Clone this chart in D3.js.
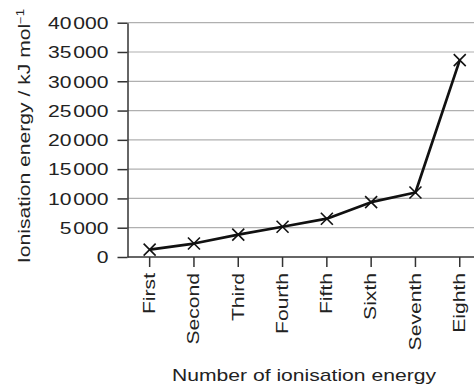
<!DOCTYPE html>
<meta charset="utf-8">
<style>
body{ margin:0; background:#fff; }
text{ font-family:"Liberation Sans", Arial, sans-serif; fill:#222; }
.grid line{ stroke:#b0b0b0; stroke-width:1.2px; }
.axis path, .axis line{ stroke:#333; stroke-width:1.5px; }
.series{ fill:none; stroke:#111; stroke-width:2.7px; stroke-linejoin:round; }
.marker{ stroke:#111; stroke-width:1.6px; }
</style>
<body>
<script src="https://d3js.org/d3.v7.min.js"></script>
<script>

var categories = ["First","Second","Third","Fourth","Fifth","Sixth","Seventh","Eighth"];
var energies = [1251, 2298, 3822, 5159, 6540, 9362, 11018, 33604];
var yTicks = [0,5000,10000,15000,20000,25000,30000,35000,40000];

var W = 474, H = 387;
var svg = d3.select("body").append("svg").attr("width", W).attr("height", H);

var plotLeft = 127.5, plotTop = 22.7, plotBottom = 257, step = 44.3;
var k = 1.32; // the lettering in the picture is wider than Liberation Sans

var x = d3.scaleBand().domain(categories).range([plotLeft, plotLeft + step*categories.length]);
var y = d3.scaleLinear().domain([0, 40000]).range([plotBottom, plotTop]);

// small gap before the last three digits, as in the picture
var fmt = function(d){ return d < 1000 ? String(d) : String(d).replace(/(\d{3})$/, "\u200A$1"); };

// gridlines
svg.append("g").attr("class","grid")
  .selectAll("line").data(yTicks.slice(1)).join("line")
  .attr("x1", plotLeft).attr("x2", W)
  .attr("y1", d=>y(d)).attr("y2", d=>y(d));

// y axis
var ya = svg.append("g").attr("class","axis").attr("transform","translate("+plotLeft+",0)")
  .call(d3.axisLeft(y).tickValues(yTicks).tickSize(10).tickSizeOuter(0).tickFormat(fmt));
ya.selectAll("text").style("font-size","16px").attr("x",0).attr("dy","0.36em")
  .attr("transform","translate(-19,0) scale("+k+",1)");

// x axis
var xa = svg.append("g").attr("class","axis").attr("transform","translate(0,"+plotBottom+")")
  .call(d3.axisBottom(x).tickSize(10).tickSizeOuter(0));
xa.select(".domain").attr("d","M"+plotLeft+",0H"+W);
xa.selectAll("text").style("font-size","16px")
  .attr("transform","rotate(-90) translate(-16,0) scale("+k+",1)")
  .attr("x",0).attr("y",0).attr("dy","0.33em")
  .style("text-anchor","end");

// line
var line = d3.line().x((d,i)=>x(categories[i]) + x.bandwidth()/2).y(d=>y(d));
svg.append("path").attr("class","series").datum(energies).attr("d", line);

// X markers
var s = 6;
var mk = svg.append("g").selectAll("g").data(energies).join("g")
  .attr("transform",(d,i)=>"translate("+(x(categories[i]) + x.bandwidth()/2)+","+y(d)+")");
mk.append("line").attr("class","marker").attr("x1",-s).attr("y1",-s).attr("x2",s).attr("y2",s);
mk.append("line").attr("class","marker").attr("x1",-s).attr("y1",s).attr("x2",s).attr("y2",-s);

// titles
var yt = svg.append("text").attr("transform","translate(29.5,136) rotate(-90) scale("+k+",1)")
  .style("text-anchor","middle").style("font-size","16px");
yt.append("tspan").text("Ionisation energy / kJ mol");
yt.append("tspan").text("\u22121").attr("dy","-6").style("font-size","10px");

svg.append("text").attr("transform","translate(304,381) scale("+k+",1)")
  .style("text-anchor","middle").style("font-size","16px")
  .text("Number of ionisation energy");
</script>
</body>
</html>
